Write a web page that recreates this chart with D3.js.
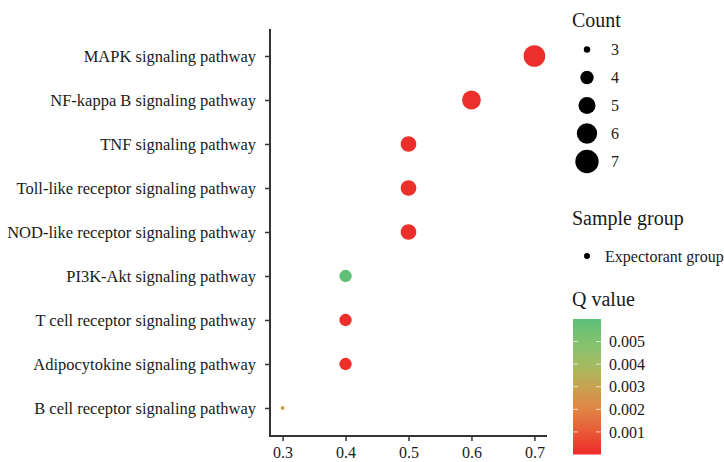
<!DOCTYPE html>
<html>
<head>
<meta charset="utf-8">
<script src="https://cdn.jsdelivr.net/npm/d3@7"></script>
<style>
  html, body { margin: 0; padding: 0; background: #fff; }
  svg { display: block; font-family: "Liberation Serif", "Times New Roman", serif; }
</style>
</head>
<body>
<svg id="chart" width="724" height="462"></svg>
<script>
const pathways = [
  "MAPK signaling pathway",
  "NF-kappa B signaling pathway",
  "TNF signaling pathway",
  "Toll-like receptor signaling pathway",
  "NOD-like receptor signaling pathway",
  "PI3K-Akt signaling pathway",
  "T cell receptor signaling pathway",
  "Adipocytokine signaling pathway",
  "B cell receptor signaling pathway"
];
const richFactor = [0.7, 0.6, 0.5, 0.5, 0.5, 0.4, 0.4, 0.4, 0.3];
const counts = [7, 6, 5, 5, 5, 4, 4, 4, 2];
const qValues = [0.0001, 0.0001, 0.0001, 0.0001, 0.0001, 0.0059, 0.0001, 0.0001, 0.0027];
const xTicks = [0.3, 0.4, 0.5, 0.6, 0.7];
const countBreaks = [3, 4, 5, 6, 7];
const qBreaks = [0.001, 0.002, 0.003, 0.004, 0.005];
const groupName = "Expectorant group";
const colorStops = [0, 0.001, 0.002, 0.003, 0.004, 0.005, 0.006];
const colorValues = ["#ee2a2a", "#e85a36", "#e08445", "#c8a250", "#a2bc62", "#82c26e", "#5cbf78"];

const svg = d3.select("#chart");
const axisColor = "#333";
const FONT = "'Liberation Serif', 'Times New Roman', serif";

const x = d3.scaleLinear().domain([0.28, 0.72]).range([270, 547]);
const y = d3.scalePoint().domain(pathways).range([56, 408]);
const r = d3.scalePow().exponent(0.5).domain([2, 7]).range([2, 10.8]);
const qMin = 0, qMax = 0.006;
const color = d3.scaleLinear().domain(colorStops).range(colorValues).interpolate(d3.interpolateRgb).clamp(true);

// axes
const yAxis = d3.axisLeft(y).tickSize(5).tickPadding(9).tickSizeOuter(0);
const gy = svg.append("g").attr("transform", "translate(270,0)").call(yAxis).attr("font-family", FONT);
gy.select(".domain").remove();
gy.selectAll(".tick line").attr("stroke", axisColor).attr("stroke-width", 1.5);
gy.selectAll(".tick text").attr("fill", "#1a1a1a").style("font-size", "16.5px")
  .style("font-family", FONT).attr("dy", "0.35em");

const xAxis = d3.axisBottom(x).tickValues(xTicks).tickFormat(d3.format(".1f")).tickSize(5).tickPadding(6).tickSizeOuter(0);
const gx = svg.append("g").attr("transform", "translate(0,436)").call(xAxis).attr("font-family", FONT);
gx.select(".domain").remove();
gx.selectAll(".tick line").attr("stroke", axisColor).attr("stroke-width", 1.5);
gx.selectAll(".tick text").attr("fill", "#1a1a1a").style("font-size", "16px")
  .style("font-family", FONT).attr("dy", "0.68em");

svg.append("path").attr("d", "M270,29V436H547").attr("fill", "none").attr("stroke", axisColor).attr("stroke-width", 2);

// points
const data = pathways.map((p, i) => ({ p, rf: richFactor[i], c: counts[i], q: qValues[i] }));
svg.append("g").selectAll("circle").data(data).join("circle")
  .attr("cx", d => x(d.rf)).attr("cy", d => y(d.p)).attr("r", d => r(d.c))
  .attr("fill", d => color(d.q));

// legend: Count
const lg = svg.append("g").attr("font-family", FONT);
const legX = 587;
lg.append("text").attr("x", 572).attr("y", 27).text("Count").style("font-size", "20px").attr("fill", "#1a1a1a");
countBreaks.forEach((c, i) => {
  const cy = 49.5 + i * 28;
  lg.append("circle").attr("cx", legX).attr("cy", cy).attr("r", r(c) * (c === 3 ? 0.75 : 1.08)).attr("fill", "#000");
  lg.append("text").attr("x", 611).attr("y", cy).attr("dy", "0.35em").text(c).style("font-size", "16px").attr("fill", "#1a1a1a");
});

// legend: Sample group
lg.append("text").attr("x", 572).attr("y", 225).text("Sample group").style("font-size", "20px").attr("fill", "#1a1a1a");
lg.append("circle").attr("cx", legX).attr("cy", 256).attr("r", 3).attr("fill", "#000");
lg.append("text").attr("x", 605).attr("y", 256).attr("dy", "0.35em").text(groupName).style("font-size", "16px").attr("fill", "#1a1a1a");

// legend: Q value colorbar
lg.append("text").attr("x", 572).attr("y", 306).text("Q value").style("font-size", "20px").attr("fill", "#1a1a1a");
const cbX = 573, cbW = 28, cbTop = 319, cbBot = 454.5;
const qs = d3.scaleLinear().domain([qMin, qMax]).range([cbBot, cbTop]);
const defs = svg.append("defs");
const grad = defs.append("linearGradient").attr("id", "qgrad").attr("x1", 0).attr("y1", 1).attr("x2", 0).attr("y2", 0);
d3.range(0, 1.0001, 0.05).forEach(t => {
  grad.append("stop").attr("offset", t).attr("stop-color", color(qMin + t * (qMax - qMin)));
});
lg.append("rect").attr("x", cbX).attr("y", cbTop).attr("width", cbW).attr("height", cbBot - cbTop).attr("fill", "url(#qgrad)");
qBreaks.forEach(q => {
  const yy = qs(q);
  lg.append("line").attr("x1", cbX).attr("x2", cbX + 5).attr("y1", yy).attr("y2", yy).attr("stroke", "#fff").attr("stroke-opacity", 0.7).attr("stroke-width", 1);
  lg.append("line").attr("x1", cbX + cbW - 5).attr("x2", cbX + cbW).attr("y1", yy).attr("y2", yy).attr("stroke", "#fff").attr("stroke-opacity", 0.7).attr("stroke-width", 1);
  lg.append("text").attr("x", 609).attr("y", yy).attr("dy", "0.35em").text(d3.format(".3f")(q)).style("font-size", "16px").attr("fill", "#1a1a1a");
});
</script>
</body>
</html>
